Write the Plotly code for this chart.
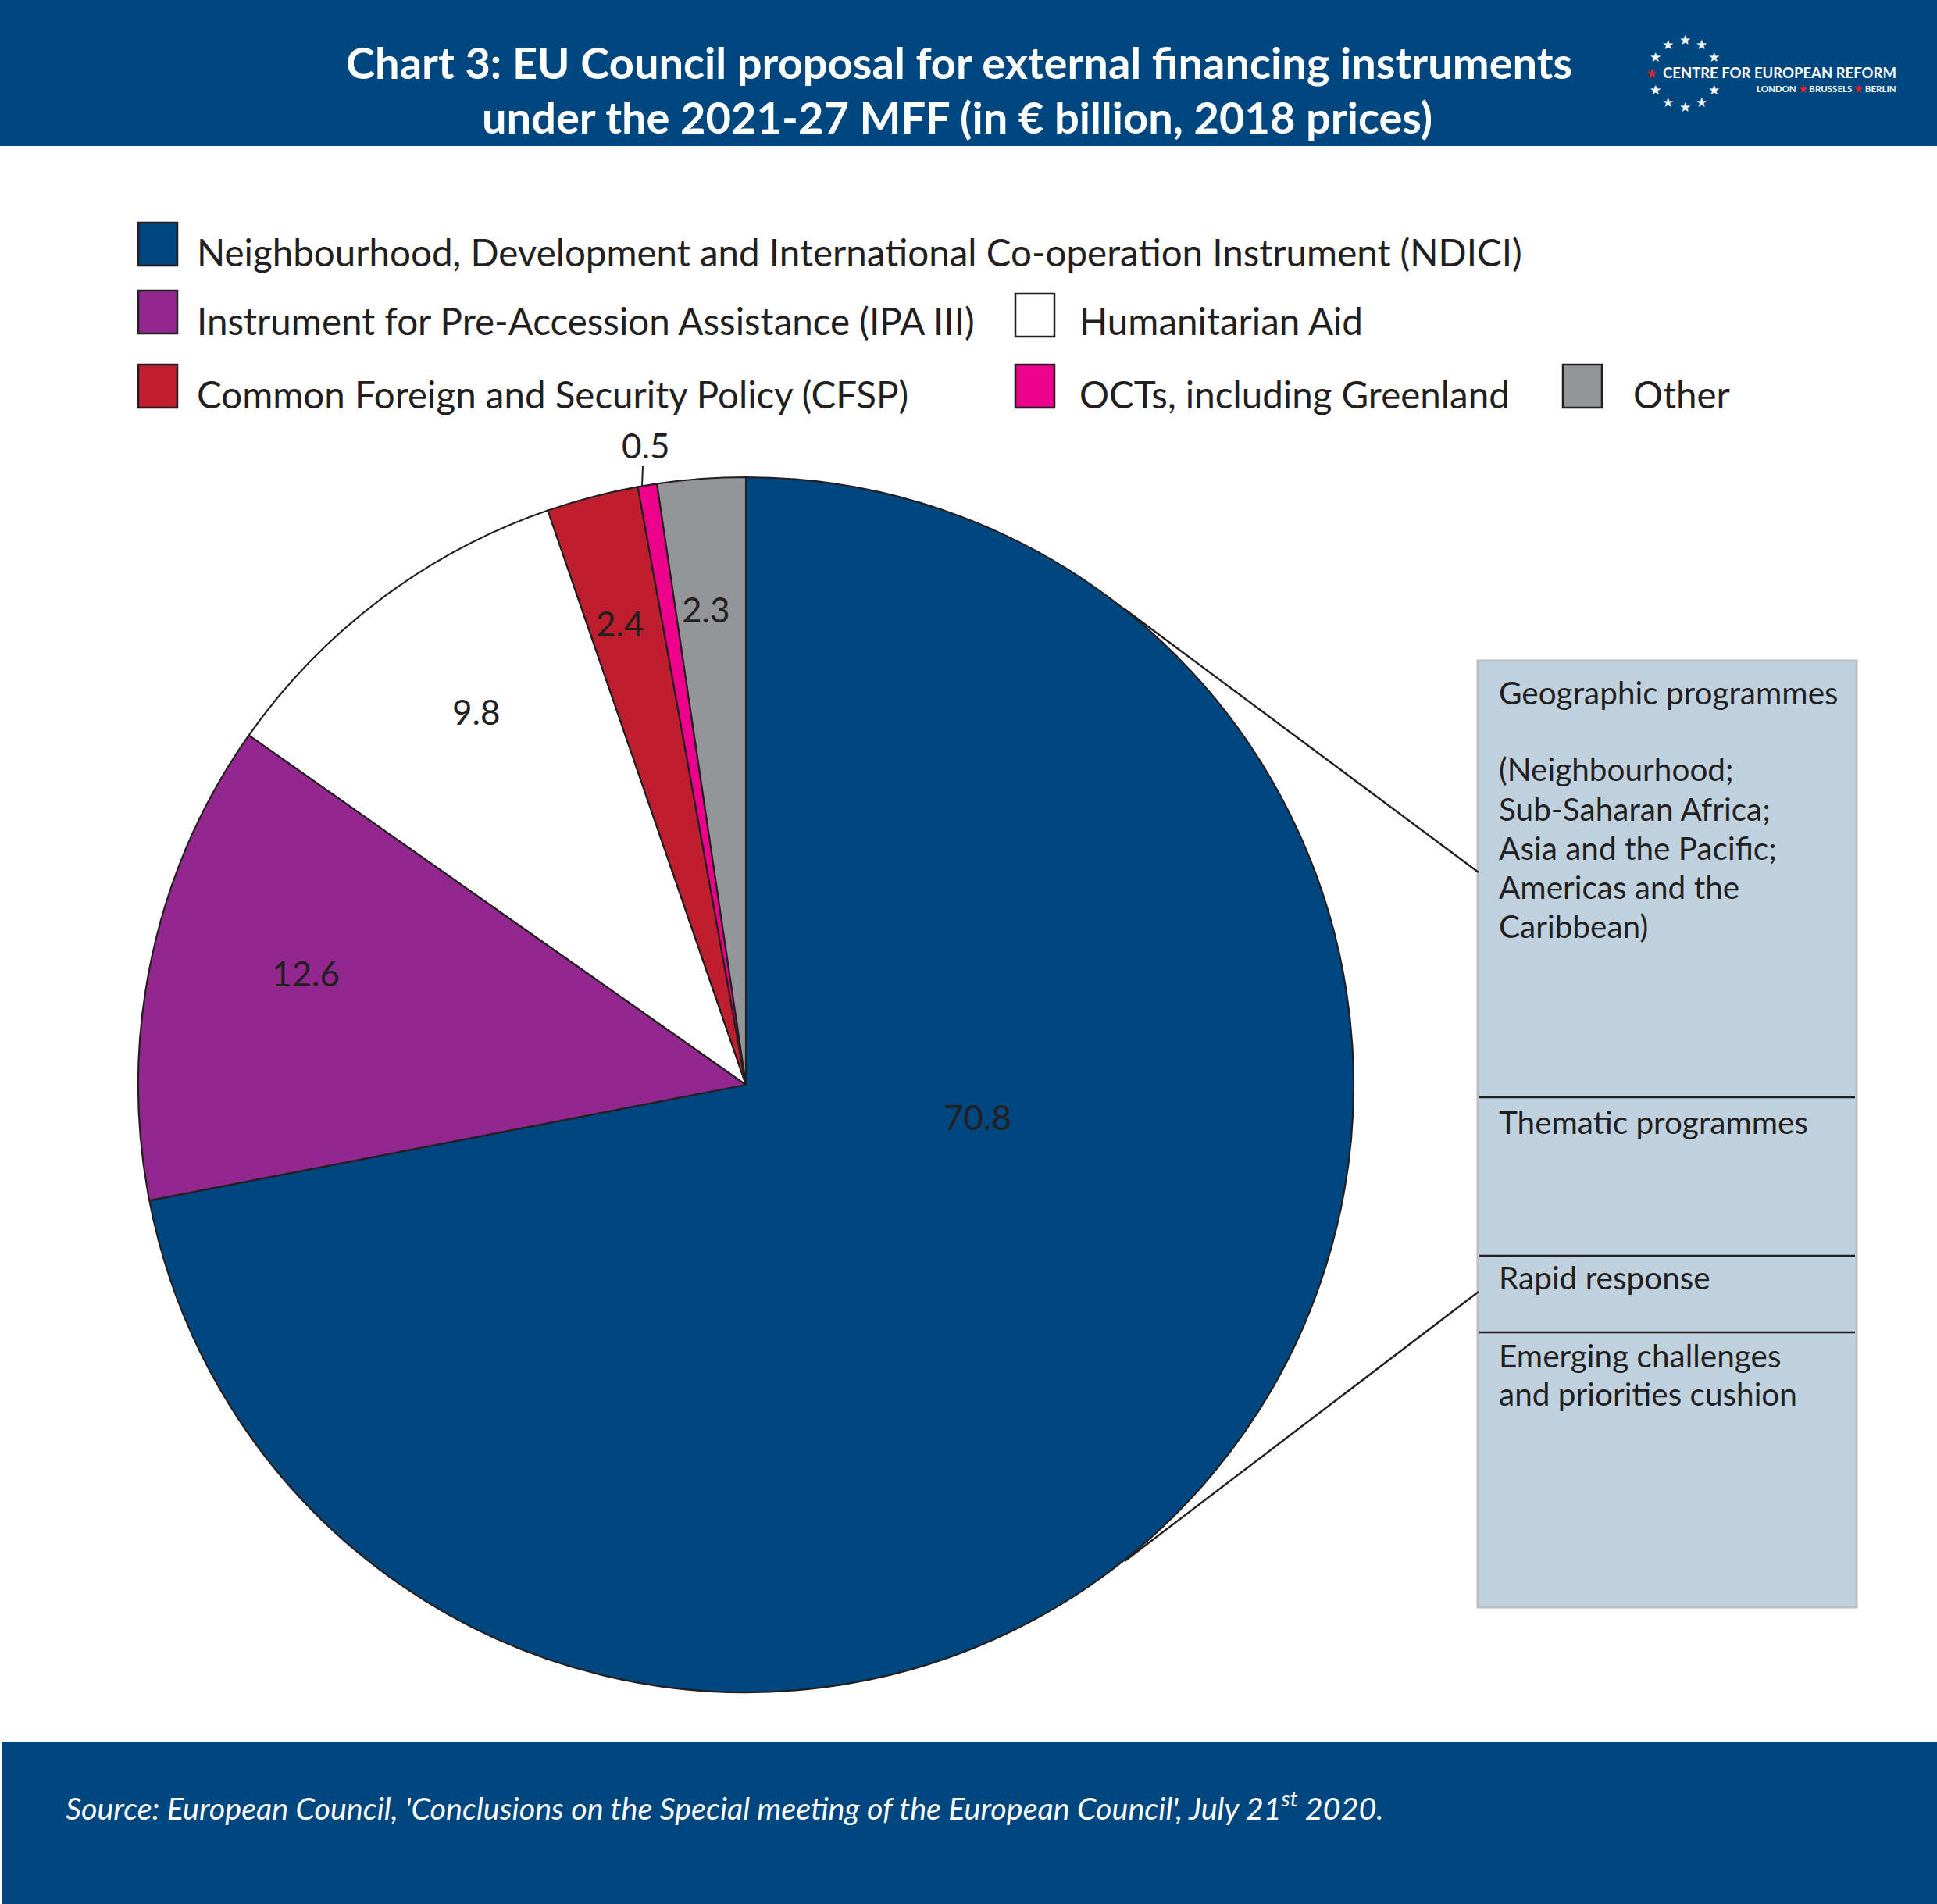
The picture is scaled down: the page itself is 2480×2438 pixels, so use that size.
import math
import plotly.graph_objects as go

# ---------------- data ----------------
instruments = [
    "Neighbourhood, Development and International Co-operation Instrument (NDICI)",
    "Instrument for Pre-Accession Assistance (IPA III)",
    "Humanitarian Aid",
    "Common Foreign and Security Policy (CFSP)",
    "OCTs, including Greenland",
    "Other",
]
values_bn = [70.8, 12.6, 9.8, 2.4, 0.5, 2.3]
slice_colors = ["#00467F", "#92278F", "#FFFFFF", "#BE1E2D", "#EC008C", "#939598"]

ndici_components = [
    "Geographic programmes",
    "",
    "(Neighbourhood;",
    "Sub-Saharan Africa;",
    "Asia and the Pacific;",
    "Americas and the",
    "Caribbean)",
    "Thematic programmes",
    "Rapid response",
    "Emerging challenges",
    "and priorities cushion",
]

title_lines = [
    "Chart 3: EU Council proposal for external financing instruments",
    "under the 2021-27 MFF (in € billion, 2018 prices)",
]
source_text = ("Source: European Council, 'Conclusions on the Special meeting of the "
               "European Council', July 21<sup>st</sup> 2020.")

# ---------------- layout helpers ----------------
W, H = 2480, 2438
BLUE = "#00467F"
INK = "#231F20"
FONT = "Lato"


def px(x):
    return x / W


def py(y):
    return 1 - y / H


shapes = []
annotations = []


def rect(x0, y0, x1, y1, fill, line_color=None, line_width=0):
    shapes.append(dict(type="rect", xref="paper", yref="paper",
                       x0=px(x0), x1=px(x1), y0=py(y1), y1=py(y0),
                       fillcolor=fill,
                       line=dict(color=line_color or fill, width=line_width),
                       layer="below" if line_width == 0 else "above"))


def seg(x0, y0, x1, y1, color=INK, width=2.5):
    shapes.append(dict(type="line", xref="paper", yref="paper",
                       x0=px(x0), x1=px(x1), y0=py(y0), y1=py(y1),
                       line=dict(color=color, width=width)))


def text(x, y, t, size, color=INK, xanchor="left", yanchor="middle", family=FONT, **kw):
    annotations.append(dict(xref="paper", yref="paper", x=px(x), y=py(y), text=t,
                            showarrow=False, xanchor=xanchor, yanchor=yanchor,
                            font=dict(family=family, size=size, color=color), **kw))


# header and footer bands
rect(0, 0, W, 187, BLUE)
rect(2, 2230, W, H, BLUE)

# title
text(1228, 79, "<b>" + title_lines[0] + "</b>", 56, "white", xanchor="center")
text(1225, 149, "<b>" + title_lines[1] + "</b>", 56, "white", xanchor="center")

# logo
cx, cy, r = 2157, 94, 43
for ang in [90, 60, 120, 30, 150, 180, 210, 240, 270, 300, 330]:
    a = math.radians(ang)
    col = "#ED1C24" if ang == 180 else "white"
    text(cx + r * math.cos(a), cy - r * math.sin(a), "★", 17, col, xanchor="center",
         family="DejaVu Sans")
text(2430, 93, "<b>CENTRE FOR EUROPEAN REFORM</b>", 18.5, "white", xanchor="right")
text(2430, 114, "<b>LONDON <span style='color:#ED1C24'>★</span> BRUSSELS "
     "<span style='color:#ED1C24'>★</span> BERLIN</b>", 11.5, "white", xanchor="right")

# legend (manual, three rows)
legend_slots = [  # (square x, square top, text x, text centre y)
    (177, 285, 250, 323),
    (177, 372, 250, 410),
    (1300, 376, 1380, 410),
    (177, 467, 250, 505),
    (1300, 467, 1380, 505),
    (2001, 467, 2089, 505),
]
for name, col, (sx, sy, tx, ty) in zip(instruments, slice_colors, legend_slots):
    rect(sx, sy, sx + 50, sy + 55, col, INK, 2.5)
    text(tx, ty, name, 47.5)

# pie
CX, CY, R = 955, 1389, 778
fig = go.Figure(go.Pie(
    labels=instruments,
    values=values_bn,
    marker=dict(colors=slice_colors, line=dict(color=INK, width=2.2)),
    sort=False,
    direction="clockwise",
    rotation=0,
    textinfo="none",
    showlegend=False,
    hovertemplate="%{label}: %{value}<extra></extra>",
    domain=dict(x=[px(CX - R), px(CX + R)], y=[py(CY + R), py(CY - R)]),
))

# value labels
label_pos = [(1251, 1430), (392, 1246), (609, 911), (793, 798), (826, 570), (903, 780)]
for v, (lx, ly) in zip(values_bn, label_pos):
    text(lx, ly, f"{v:.1f}", 44, xanchor="center")
seg(823, 597, 822, 622, INK, 2)

# NDICI breakdown box
BX0, BY0, BX1, BY1 = 1892, 846, 2377, 2058
rect(BX0, BY0, BX1, BY1, "#BFD1DF", "#BCBEC0", 3)
for yy in [1405, 1608, 1706]:
    seg(BX0 + 2, yy, BX1 - 2, yy, INK, 2.5)
box_y = [886, 936, 985, 1035, 1085, 1135, 1185, 1436, 1635, 1735, 1784]
for t, yy in zip(ndici_components, box_y):
    if t:
        text(1917, yy, t, 40.5)

# callout lines from the pie to the box
seg(1440, 780, BX0 + 1, 1117, INK, 2.5)
seg(1440, 1999, BX0 + 1, 1654, INK, 2.5)

# source
text(82, 2312, "<i>" + source_text + "</i>", 39.5, "white")

fig.update_layout(
    width=W, height=H,
    margin=dict(l=0, r=0, t=0, b=0),
    paper_bgcolor="white",
    plot_bgcolor="white",
    shapes=shapes,
    annotations=annotations,
    font=dict(family=FONT, color=INK),
)

fig.write_html("out.html",
               config={"displayModeBar": False},
               post_script="document.body.style.margin='0px';"
                           "document.body.style.overflow='hidden';")
